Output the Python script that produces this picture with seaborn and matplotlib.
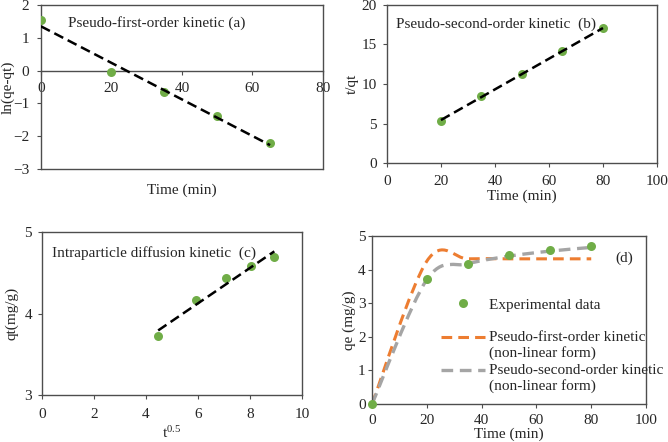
import numpy as np
import matplotlib
matplotlib.use("Agg")
import matplotlib.pyplot as plt
import seaborn as sns
from matplotlib.path import Path
from matplotlib.patches import PathPatch
from matplotlib.lines import Line2D
from matplotlib.legend_handler import HandlerLine2D

# ---------------- data ----------------
t_a = [0, 20, 35, 50, 65]
ln_qe_qt = [1.54, -0.03, -0.64, -1.38, -2.21]

t_b = [20, 35, 50, 65, 80]
t_over_qt = [5.38, 8.42, 11.27, 14.19, 17.05]

sqrt_t = [4.47, 5.92, 7.07, 8.06, 8.94]
qt_c = [3.72, 4.16, 4.44, 4.58, 4.69]

t_d = [0, 20, 35, 50, 65, 80]
qe_exp = [0, 3.73, 4.16, 4.44, 4.58, 4.69]
qe_pfo = [0, 4.25, 4.32, 4.32, 4.32, 4.32]
qe_pso = [0, 3.70, 4.17, 4.40, 4.55, 4.66]

# ---------------- style ----------------
sns.set_theme(style="white")
plt.rcParams["font.family"] = ["Liberation Serif", "DejaVu Serif"]
plt.rcParams["mathtext.fontset"] = "custom"
plt.rcParams["mathtext.rm"] = "Liberation Serif"
plt.rcParams["mathtext.it"] = "Liberation Serif:italic"
FS = 11
GREEN = "#70AD47"
ORANGE = "#ED7D31"
GREY = "#A5A5A5"
FRAME = "#4d4d4d"

fig = plt.figure(figsize=(6.68, 4.42), dpi=100)
ax_a = fig.add_axes([0.0614, 0.6176, 0.422, 0.371])
ax_b = fig.add_axes([0.5793, 0.6312, 0.4042, 0.3575])
ax_c = fig.add_axes([0.0629, 0.1063, 0.389, 0.3688])
ax_d = fig.add_axes([0.5569, 0.0860, 0.4102, 0.3801])


def frame(ax, xpad, ypad):
    for s in ax.spines.values():
        s.set_visible(True)
        s.set_color(FRAME)
        s.set_linewidth(1.0)
    ax.tick_params(axis="both", direction="out", length=3, width=0.8,
                   color=FRAME, labelsize=FS,
                   bottom=True, left=True, top=False, right=False)
    ax.tick_params(axis="x", pad=xpad)
    ax.tick_params(axis="y", pad=ypad)


def labels(ax, xl, yl, xpos, ypos):
    ax.set_xlabel(xl, fontsize=FS)
    ax.set_ylabel(yl, fontsize=FS)
    ax.xaxis.label.set_va("center")
    ax.yaxis.label.set_va("center")
    ax.xaxis.set_label_coords(0.5, xpos)
    ax.yaxis.set_label_coords(ypos, 0.5)


dash_kws = dict(color="black", ls=(0, (4, 2)), lw=1.8)
sc_kws = dict(s=42, color=GREEN, linewidths=0, alpha=1, zorder=3)

# ---- (a)
frame(ax_a, 5.5, 5.5)
sns.regplot(x=t_a, y=ln_qe_qt, ax=ax_a, ci=None, scatter_kws=sc_kws,
            line_kws=dict(**dash_kws, zorder=4))
ax_a.set_xlim(0, 80)
ax_a.set_ylim(-3, 2)
ax_a.set_xticks([0, 20, 40, 60, 80])
ax_a.set_yticks([-3, -2, -1, 0, 1, 2])
ax_a.spines["bottom"].set_position(("data", 0))
ax_a.axhline(-3, color=FRAME, lw=1.0, clip_on=False)
labels(ax_a, "Time (min)", "ln(qe-qt)", -0.128, -0.118)
ax_a.text(0.096, 0.89, "Pseudo-first-order kinetic (a)", transform=ax_a.transAxes,
          fontsize=FS, va="center", ha="left")

# ---- (b)
frame(ax_b, 5.5, 4.3)
sns.regplot(x=t_b, y=t_over_qt, ax=ax_b, ci=None, scatter_kws=sc_kws,
            line_kws=dict(**dash_kws, zorder=4))
ax_b.set_xlim(0, 100)
ax_b.set_ylim(0, 20)
ax_b.set_xticks([0, 20, 40, 60, 80, 100])
ax_b.set_yticks([0, 5, 10, 15, 20])
labels(ax_b, "Time (min)", "t/qt", -0.213, -0.130)
ax_b.text(0.032, 0.88, "Pseudo-second-order kinetic  (b)", transform=ax_b.transAxes,
          fontsize=FS, va="center", ha="left")

# ---- (c)
frame(ax_c, 6.5, 4.3)
sns.regplot(x=sqrt_t, y=qt_c, ax=ax_c, ci=None, scatter_kws=sc_kws,
            line_kws=dict(**dash_kws, zorder=4))
ax_c.set_xlim(0, 10)
ax_c.set_ylim(3, 5)
ax_c.set_xticks([0, 2, 4, 6, 8, 10])
ax_c.set_yticks([3, 4, 5])
labels(ax_c, "t$^{0.5}$", "qt(mg/g)", -0.235, -0.115)
ax_c.text(0.037, 0.87, "Intraparticle diffusion kinetic  (c)", transform=ax_c.transAxes,
          fontsize=FS, va="center", ha="left")

# ---- (d)
frame(ax_d, 4.0, 1.6)


def smooth_path(xs, ys):
    P = np.column_stack([xs, ys]).astype(float)
    n = len(P)
    verts = [P[0]]
    codes = [Path.MOVETO]
    for i in range(n - 1):
        p_prev = P[max(i - 1, 0)]
        p_next2 = P[min(i + 2, n - 1)]
        c1 = P[i] + (P[i + 1] - p_prev) / 6.0
        c2 = P[i + 1] - (p_next2 - P[i]) / 6.0
        verts += [c1, c2, P[i + 1]]
        codes += [Path.CURVE4] * 3
    return Path(verts, codes)


DASH_D = (0, (3.5, 2))
ax_d.add_patch(PathPatch(smooth_path(t_d, qe_pfo), fill=False, edgecolor=ORANGE,
                         lw=2.2, ls=DASH_D, zorder=2))
ax_d.add_patch(PathPatch(smooth_path(t_d, qe_pso), fill=False, edgecolor=GREY,
                         lw=2.4, ls=DASH_D, zorder=2))
sns.scatterplot(x=t_d, y=qe_exp, ax=ax_d, s=42, color=GREEN, linewidth=0,
                zorder=3, clip_on=False)
ax_d.set_xlim(0, 100)
ax_d.set_ylim(0, 5)
ax_d.set_xticks([0, 20, 40, 60, 80, 100])
ax_d.set_yticks([0, 1, 2, 3, 4, 5])
labels(ax_d, "Time (min)", "qe (mg/g)", -0.18, -0.084)
ax_d.text(0.92, 0.87, "(d)", transform=ax_d.transAxes, fontsize=FS,
          va="center", ha="center")


class HandlerTop(HandlerLine2D):
    """Place the line handle level with the first line of a two-line label."""
    def create_artists(self, legend, orig_handle, xdescent, ydescent,
                       width, height, fontsize, trans):
        arts = super().create_artists(legend, orig_handle, xdescent, ydescent,
                                      width, height, fontsize, trans)
        for a in arts:
            a.set_ydata(np.asarray(a.get_ydata()) + 0.55 * fontsize)
        return arts


leg_kws = dict(frameon=False, fontsize=FS, borderpad=0, borderaxespad=0,
               handlelength=2.9, handletextpad=0.25)

h_exp = Line2D([], [], ls="none", marker="o", markersize=6.5, color=GREEN,
               markeredgewidth=0)
leg1 = ax_d.legend([h_exp], ["Experimental data"], loc="center left",
                   bbox_to_anchor=(0.252, 0.59), **leg_kws)
ax_d.add_artist(leg1)

h_pfo = Line2D([], [], color=ORANGE, lw=2.2, ls=DASH_D)
h_pso = Line2D([], [], color=GREY, lw=2.4, ls=DASH_D)
ax_d.legend([h_pfo, h_pso],
            ["Pseudo-first-order kinetic\n(non-linear form)",
             "Pseudo-second-order kinetic\n(non-linear form)"],
            loc="upper left", bbox_to_anchor=(0.252, 0.435),
            labelspacing=0.25, handler_map={Line2D: HandlerTop()}, **leg_kws)

fig.savefig("out.png", dpi=100)
